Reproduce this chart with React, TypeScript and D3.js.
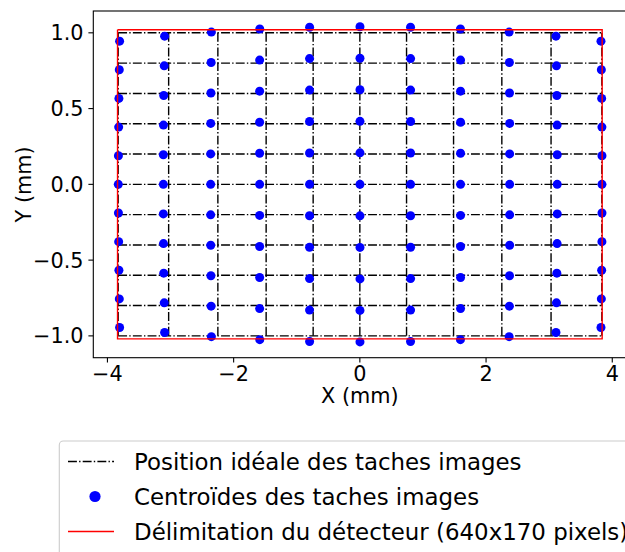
import React from 'react';
import * as d3 from 'd3';

// ---- data (mm) ----
const idealX = [-3.83, -3.03, -2.25, -1.485, -0.74, 0, 0.74, 1.485, 2.25, 3.03, 3.835];
const idealY = [1.0, 0.8, 0.6, 0.4, 0.2, 0.0, -0.2, -0.4, -0.6, -0.8, -1.0];

const centroidX = [
  [-3.807, -3.812, -3.818, -3.822, -3.826, -3.828, -3.826, -3.822, -3.818, -3.812, -3.807],
  [-3.094, -3.1, -3.108, -3.112, -3.114, -3.114, -3.114, -3.112, -3.108, -3.1, -3.094],
  [-2.353, -2.357, -2.36, -2.363, -2.364, -2.364, -2.364, -2.363, -2.36, -2.357, -2.353],
  [-1.586, -1.588, -1.588, -1.588, -1.588, -1.588, -1.588, -1.588, -1.588, -1.588, -1.586],
  [-0.796, -0.797, -0.797, -0.797, -0.797, -0.797, -0.797, -0.797, -0.797, -0.797, -0.796],
  [0.002, 0.002, 0.002, 0.002, 0.002, 0.002, 0.002, 0.002, 0.002, 0.002, 0.002],
  [0.803, 0.804, 0.804, 0.804, 0.804, 0.804, 0.804, 0.804, 0.804, 0.804, 0.803],
  [1.594, 1.596, 1.596, 1.596, 1.596, 1.596, 1.596, 1.596, 1.596, 1.596, 1.594],
  [2.366, 2.37, 2.372, 2.374, 2.374, 2.374, 2.374, 2.374, 2.372, 2.37, 2.366],
  [3.108, 3.116, 3.122, 3.126, 3.128, 3.128, 3.128, 3.126, 3.122, 3.116, 3.108],
  [3.821, 3.827, 3.832, 3.836, 3.837, 3.837, 3.837, 3.836, 3.832, 3.827, 3.821],
];

const centroidY = [
  [0.945, 0.756, 0.567, 0.378, 0.189, 0, -0.189, -0.378, -0.567, -0.756, -0.945],
  [0.978, 0.782, 0.586, 0.391, 0.195, 0, -0.195, -0.391, -0.586, -0.782, -0.978],
  [1.005, 0.804, 0.603, 0.402, 0.201, 0, -0.201, -0.402, -0.603, -0.804, -1.005],
  [1.025, 0.82, 0.615, 0.41, 0.205, 0, -0.205, -0.41, -0.615, -0.82, -1.025],
  [1.037, 0.83, 0.622, 0.415, 0.207, 0, -0.207, -0.415, -0.622, -0.83, -1.037],
  [1.04, 0.832, 0.624, 0.416, 0.208, 0, -0.208, -0.416, -0.624, -0.832, -1.04],
  [1.037, 0.83, 0.622, 0.415, 0.207, 0, -0.207, -0.415, -0.622, -0.83, -1.037],
  [1.025, 0.82, 0.615, 0.41, 0.205, 0, -0.205, -0.41, -0.615, -0.82, -1.025],
  [1.005, 0.804, 0.603, 0.402, 0.201, 0, -0.201, -0.402, -0.603, -0.804, -1.005],
  [0.978, 0.782, 0.586, 0.391, 0.195, 0, -0.195, -0.391, -0.586, -0.782, -0.978],
  [0.945, 0.756, 0.567, 0.378, 0.189, 0, -0.189, -0.378, -0.567, -0.756, -0.945],
];

const detectorX = [-3.84, 3.84, 3.84, -3.84, -3.84];
const detectorY = [1.02, 1.02, -1.02, -1.02, 1.02];

const xTicks = [-4, -2, 0, 2, 4];
const yTicks = [-1.0, -0.5, 0.0, 0.5, 1.0];
const xDomain = [-4.224, 4.224];
const yDomain = [-1.144, 1.144];

const legendLabels = [
  'Position idéale des taches images',
  'Centroïdes des taches images',
  'Délimitation du détecteur (640x170 pixels)',
];

// ---- layout ----
const W = 625;
const H = 552;
const left = 93.3;
const right = 626.4;
const top = 11;
const bottom = 357.7;
const FS = 20.8;
const LFS = 22.9;
const FONT = 'DejaVu Sans, sans-serif';
const DASHDOT = '8.9,2.2,1.4,2.2';
const LW = 1.4;

const fmtMinus = (s: string) => s.replace('-', '\u2212');

export default function App() {
  const x = d3.scaleLinear().domain(xDomain).range([left, right]);
  const y = d3.scaleLinear().domain(yDomain).range([bottom, top]);
  const line = d3.line<[number, number]>().x(d => x(d[0])).y(d => y(d[1]));

  const x0 = idealX[0];
  const x1 = idealX[idealX.length - 1];
  const y0 = idealY[0];
  const y1 = idealY[idealY.length - 1];

  const detPts: [number, number][] = detectorX.map((v, i) => [v, detectorY[i]]);

  const hx0 = 68;
  const hx1 = 114;
  const rowY = [461.5, 496.5, 531.5];

  return (
    <svg
      width={W}
      height={H}
      style={{ position: 'absolute', left: 0, top: 0, background: '#fff' }}
      fontFamily={FONT}
    >
      <rect x={0} y={0} width={W} height={H} fill="#fff" />
      <defs>
        <clipPath id="plotclip">
          <rect x={left} y={top} width={right - left} height={bottom - top} />
        </clipPath>
      </defs>
      <g clipPath="url(#plotclip)">
        {/* ideal grid */}
        {idealY.map((yy, i) => (
          <path
            key={'h' + i}
            d={line([[x0, yy], [x1, yy]]) || ''}
            stroke="#000"
            strokeWidth={LW}
            strokeDasharray={DASHDOT}
            fill="none"
          />
        ))}
        {idealX.map((xx, i) => (
          <path
            key={'v' + i}
            d={line([[xx, y0], [xx, y1]]) || ''}
            stroke="#000"
            strokeWidth={LW}
            strokeDasharray={DASHDOT}
            fill="none"
          />
        ))}
        {/* centroids */}
        {centroidX.map((col, ci) =>
          col.map((cx, ri) => (
            <circle
              key={'c' + ci + '-' + ri}
              cx={x(cx)}
              cy={y(centroidY[ci][ri])}
              r={4.5}
              fill="#0000ff"
            />
          ))
        )}
        {/* detector */}
        <path d={line(detPts) || ''} stroke="#ff0000" strokeWidth={LW} fill="none" />
      </g>

      {/* spines */}
      <rect x={left} y={top} width={right - left} height={bottom - top} fill="none" stroke="#000" strokeWidth={1.1} />

      {/* x ticks */}
      {xTicks.map(t => (
        <g key={'xt' + t}>
          <line x1={x(t)} x2={x(t)} y1={bottom} y2={bottom + 4.9} stroke="#000" strokeWidth={1.1} />
          <text x={x(t)} y={381} fontSize={FS} textAnchor="middle" fill="#000">
            {fmtMinus(String(t))}
          </text>
        </g>
      ))}
      {/* y ticks */}
      {yTicks.map(t => (
        <g key={'yt' + t}>
          <line x1={left - 4.9} x2={left} y1={y(t)} y2={y(t)} stroke="#000" strokeWidth={1.1} />
          <text x={left - 9.8} y={y(t) + 7.6} fontSize={FS} textAnchor="end" fill="#000">
            {fmtMinus(t.toFixed(1))}
          </text>
        </g>
      ))}

      {/* axis labels */}
      <text x={(left + right) / 2} y={403} fontSize={FS} textAnchor="middle" fill="#000">
        X (mm)
      </text>
      <text
        transform={`translate(31, ${(top + bottom) / 2}) rotate(-90)`}
        fontSize={FS}
        textAnchor="middle"
        fill="#000"
      >
        Y (mm)
      </text>

      {/* legend */}
      <rect
        x={59.3}
        y={441}
        width={700}
        height={140}
        rx={4}
        fill="#fff"
        fillOpacity={0.8}
        stroke="#cccccc"
        strokeWidth={1.1}
      />
      <line x1={hx0} x2={hx1} y1={rowY[0]} y2={rowY[0]} stroke="#000" strokeWidth={LW} strokeDasharray={DASHDOT} />
      <circle cx={(hx0 + hx1) / 2 + 4} cy={rowY[1]} r={5.6} fill="#0000ff" />
      <line x1={hx0} x2={hx1} y1={rowY[2]} y2={rowY[2]} stroke="#ff0000" strokeWidth={LW} />
      {legendLabels.map((l, i) => (
        <text key={'lg' + i} x={134} y={rowY[i] + 8.3} fontSize={LFS} fill="#000">
          {l}
        </text>
      ))}
    </svg>
  );
}
